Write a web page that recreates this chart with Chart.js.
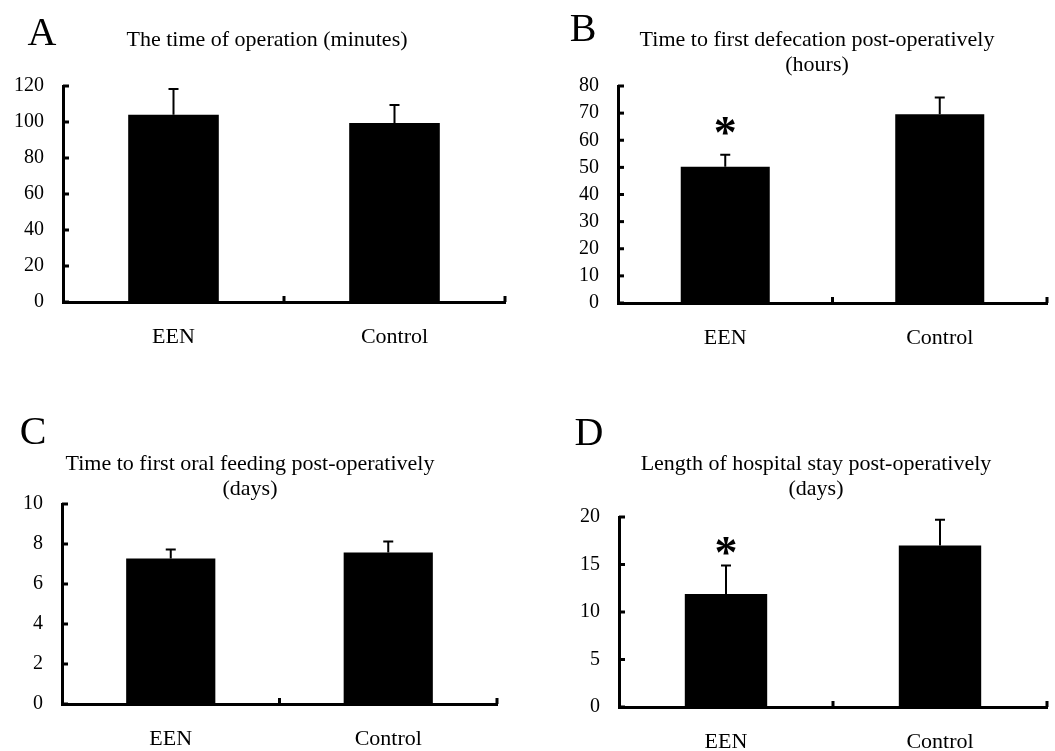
<!DOCTYPE html>
<html>
<head>
<meta charset="utf-8">
<script src="https://cdn.jsdelivr.net/npm/chart.js@4.4.1/dist/chart.umd.min.js"></script>
<style>
  body { margin: 0; background: #fff; }
  #wrap { position: relative; width: 1055px; height: 751px; overflow: hidden; }
  #wrap canvas { position: absolute; }
</style>
</head>
<body>
<div id="wrap">
  <canvas id="painelA" width="520" height="360" style="left:0;top:0"></canvas>
  <canvas id="painelB" width="535" height="360" style="left:520px;top:0"></canvas>
  <canvas id="painelC" width="520" height="351" style="left:0;top:400px"></canvas>
  <canvas id="painelD" width="535" height="351" style="left:520px;top:400px"></canvas>
</div>
<script>
// ===== Dados =====
const categories = ['EEN', 'Control'];

const operationTime = [104, 99.4];
const operationTimeErr = [14.3, 10.0];

const defecationHours = [50.2, 69.6];
const defecationHoursErr = [4.5, 6.2];

const oralFeedingDays = [7.27, 7.57];
const oralFeedingDaysErr = [0.46, 0.55];

const hospitalStayDays = [11.9, 17.0];
const hospitalStayDaysErr = [3.0, 2.7];

// asterisco de significância acima de cada barra
const defecationStars = [true, false];
const hospitalStayStars = [true, false];

const SERIF = "'Times New Roman', 'Liberation Serif', serif";

// ===== Plugin: barras de erro (só a parte de cima) + asteriscos =====
const errorBarsPlugin = {
  id: 'errorBars',
  afterDatasetsDraw(chart, args, opts) {
    const { ctx, scales: { y } } = chart;
    const meta = chart.getDatasetMeta(0);
    ctx.save();
    ctx.strokeStyle = '#000';
    ctx.lineWidth = 2;
    meta.data.forEach((bar, i) => {
      const value = chart.data.datasets[0].data[i];
      const top = y.getPixelForValue(value + opts.errors[i]);
      ctx.beginPath();
      ctx.moveTo(bar.x, bar.y);
      ctx.lineTo(bar.x, top);
      ctx.moveTo(bar.x - 5, top);
      ctx.lineTo(bar.x + 5, top);
      ctx.stroke();

      if (opts.stars && opts.stars[i]) {
        ctx.fillStyle = '#000';
        ctx.font = 'bold 46px ' + SERIF;
        ctx.textAlign = 'center';
        ctx.textBaseline = 'middle';
        ctx.fillText('*', bar.x, top - opts.starGap);
      }
    });
    ctx.restore();
  },
};

// ===== Plugin: marquinhas dos eixos (para dentro), título e letra do painel =====
const axisMarksPlugin = {
  id: 'axisMarks',
  afterDraw(chart, args, opts) {
    const { ctx, chartArea, scales: { x, y } } = chart;
    ctx.save();
    ctx.fillStyle = '#000';
    y.ticks.forEach((t, i) => {
      const py = y.getPixelForTick(i);
      ctx.fillRect(chartArea.left, py - 1.5, 6, 3);
    });
    for (let i = 0; i < categories.length; i++) {
      const px = x.getPixelForValue(i + 0.5);
      ctx.fillRect(px - 1.5, chartArea.bottom - 6, 3, 6);
    }

    ctx.textAlign = 'center';
    ctx.textBaseline = 'middle';
    ctx.font = '22px ' + SERIF;
    opts.title.forEach((linha, i) => {
      ctx.fillText(linha, opts.titleX, opts.titleY + i * 25);
    });

    ctx.font = '40px ' + SERIF;
    ctx.fillText(opts.letter, opts.letterX, opts.letterY);
    ctx.restore();
  },
};

// ===== Monta um painel =====
function criarPainel(id, cfg) {
  return new Chart(document.getElementById(id), {
    type: 'bar',
    data: {
      labels: categories,
      datasets: [{
        data: cfg.values,
        backgroundColor: '#000',
        borderWidth: 0,
        barPercentage: cfg.barPct,
        categoryPercentage: 1,
      }],
    },
    options: {
      responsive: false,
      animation: false,
      events: [],
      layout: { padding: { left: 0, right: cfg.padRight, top: cfg.padTop, bottom: 0 } },
      plugins: {
        legend: { display: false },
        tooltip: { enabled: false },
        title: { display: false },
        errorBars: { errors: cfg.errors, stars: cfg.stars, starGap: cfg.starGap || 0 },
        axisMarks: {
          title: cfg.title, titleX: cfg.titleX, titleY: cfg.titleY,
          letter: cfg.letter, letterX: cfg.letterX, letterY: cfg.letterY,
        },
      },
      scales: {
        x: {
          grid: { display: false, drawTicks: false },
          border: { display: true, color: '#000', width: 3 },
          ticks: { color: '#000', padding: 22, font: { family: SERIF, size: 22 } },
          afterFit: (s) => { s.height = cfg.xHeight; },
        },
        y: {
          min: 0,
          max: cfg.max,
          grid: { display: false, drawTicks: false },
          border: { display: true, color: '#000', width: 3 },
          ticks: { color: '#000', stepSize: cfg.step, padding: 19, font: { family: SERIF, size: 20 } },
          afterFit: (s) => { s.width = cfg.yWidth; },
        },
      },
    },
    plugins: [errorBarsPlugin, axisMarksPlugin],
  });
}

criarPainel('painelA', {
  title: ['The time of operation (minutes)'], titleX: 267, titleY: 40,
  values: operationTime, errors: operationTimeErr,
  max: 120, step: 20, barPct: 0.41,
  yWidth: 63, padRight: 15, padTop: 86, xHeight: 58,
  letter: 'A', letterX: 42, letterY: 34,
});

criarPainel('painelB', {
  title: ['Time to first defecation post-operatively', '(hours)'], titleX: 297, titleY: 40,
  values: defecationHours, errors: defecationHoursErr,
  stars: defecationStars, starGap: 19,
  max: 80, step: 10, barPct: 0.415,
  yWidth: 98, padRight: 8, padTop: 86, xHeight: 57,
  letter: 'B', letterX: 63, letterY: 30,
});

criarPainel('painelC', {
  title: ['Time to first oral feeding post-operatively', '(days)'], titleX: 250, titleY: 64,
  values: oralFeedingDays, errors: oralFeedingDaysErr,
  max: 10, step: 2, barPct: 0.41,
  yWidth: 62, padRight: 23, padTop: 104, xHeight: 47,
  letter: 'C', letterX: 33, letterY: 33,
});

criarPainel('painelD', {
  title: ['Length of hospital stay post-operatively', '(days)'], titleX: 296, titleY: 64,
  values: hospitalStayDays, errors: hospitalStayDaysErr,
  stars: hospitalStayStars, starGap: 9,
  max: 20, step: 5, barPct: 0.385,
  yWidth: 99, padRight: 8, padTop: 117, xHeight: 44,
  letter: 'D', letterX: 69, letterY: 34,
});
</script>
</body>
</html>
